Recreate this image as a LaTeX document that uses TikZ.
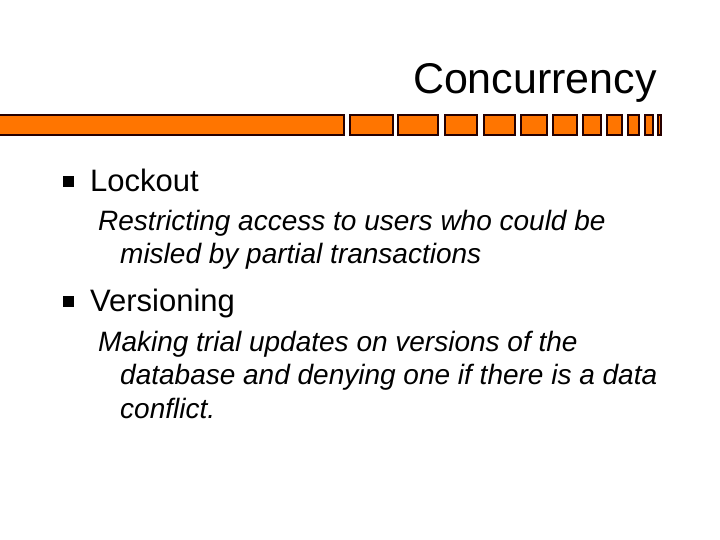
\documentclass[tikz,border=0pt]{standalone}
\usepackage{fontspec}
\setmainfont{Liberation Sans}
\begin{document}
\begin{tikzpicture}[x=1pt,y=-1pt,
 seg/.style={draw=black!85!red,line width=2pt,fill=orange!80!red!90!yellow},
 bul/.style={fill=black,inner sep=0pt,minimum size=11pt},
 main/.style={anchor=base west,inner sep=0pt,font=\fontsize{31}{36}\selectfont},
 sub/.style={anchor=base west,inner sep=0pt,align=left,font=\fontsize{28}{33.5}\selectfont\itshape}]
\useasboundingbox (0,0) rectangle (720,540);
\node[anchor=base east,inner sep=0pt,font=\fontsize{43}{50}\selectfont] (title) at (657,94) {Concurrency};
\foreach \a/\b [count=\i] in {-2/344,350/393,398/438,445/477,484/515,521/547,553/577,583/601,607/622,628/639,645/653,658/661}
  \draw[seg] (\a,115) rectangle (\b,135);
\node[bul] (b1) at (68,182) {};
\node[main] (l1) at (90,192) {Lockout};
\node[sub] (s1) at (98,263.5) {Restricting access to users who could be\\\hspace*{22pt}misled by partial transactions};
\node[bul] (b2) at (68,301) {};
\node[main] (l2) at (90,311) {Versioning};
\node[sub] (s2) at (98,418) {Making trial updates on versions of the\\\hspace*{22pt}database and denying one if there is a data\\\hspace*{22pt}conflict.};
\end{tikzpicture}
\end{document}
